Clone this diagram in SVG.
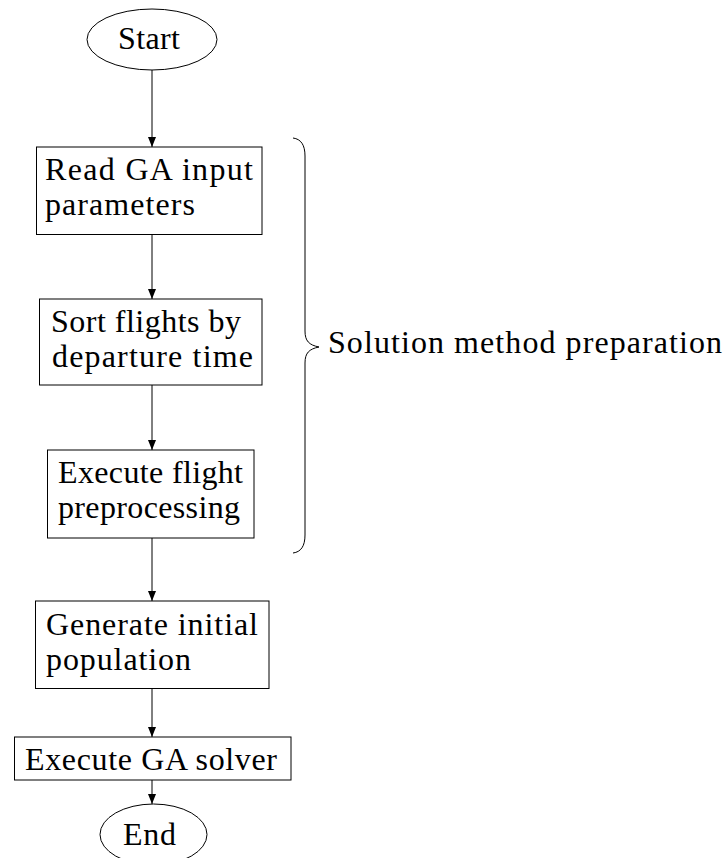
<svg xmlns="http://www.w3.org/2000/svg" width="725" height="858" viewBox="0 0 725 858">
  <style>
    .box { fill: #ffffff; stroke: #000000; stroke-width: 1; }
    .term { fill: #ffffff; stroke: #000000; stroke-width: 1; }
    .lbl { font-family: "Liberation Serif", "Times New Roman", serif; font-size: 32px; fill: #000000; }
    .edge { fill: none; stroke: #000000; stroke-width: 1; }
    .brace { fill: none; stroke: #000000; stroke-width: 1; }
  </style>
  <defs>
    <marker id="arrow" viewBox="0 0 10 8" refX="10" refY="4" markerWidth="10" markerHeight="8" markerUnits="userSpaceOnUse" orient="auto">
      <path d="M0,0 L10,4 L0,8 Z" fill="#000000"/>
    </marker>
  </defs>

  <rect width="725" height="858" fill="#ffffff"/>

  <!-- connectors -->
  <g id="connectors">
    <line class="edge" x1="152" y1="70" x2="152" y2="147" marker-end="url(#arrow)"/>
    <line class="edge" x1="152" y1="234" x2="152" y2="299" marker-end="url(#arrow)"/>
    <line class="edge" x1="152" y1="385" x2="152" y2="450" marker-end="url(#arrow)"/>
    <line class="edge" x1="152" y1="538" x2="152" y2="601" marker-end="url(#arrow)"/>
    <line class="edge" x1="152" y1="688" x2="152" y2="737" marker-end="url(#arrow)"/>
    <line class="edge" x1="152" y1="780" x2="152" y2="804" marker-end="url(#arrow)"/>
  </g>

  <!-- nodes -->
  <g id="start">
    <ellipse class="term" cx="152" cy="39.5" rx="65" ry="30.5"/>
    <text class="lbl" x="118" y="49" textLength="62">Start</text>
  </g>

  <g id="read-params">
    <rect class="box" x="36.5" y="147" width="225.5" height="87.5"/>
    <text class="lbl" x="45" y="180" textLength="208">Read GA input</text>
    <text class="lbl" x="45" y="215" textLength="150">parameters</text>
  </g>

  <g id="sort-flights">
    <rect class="box" x="39.5" y="299" width="222.5" height="86"/>
    <text class="lbl" x="51" y="332" textLength="190">Sort flights by</text>
    <text class="lbl" x="52" y="367" textLength="201">departure time</text>
  </g>

  <g id="preprocess">
    <rect class="box" x="47.5" y="450" width="206.5" height="88"/>
    <text class="lbl" x="58" y="483" textLength="185">Execute flight</text>
    <text class="lbl" x="58" y="518" textLength="182">preprocessing</text>
  </g>

  <g id="init-population">
    <rect class="box" x="35.5" y="601" width="233.5" height="87.5"/>
    <text class="lbl" x="46" y="635" textLength="212">Generate initial</text>
    <text class="lbl" x="46" y="670" textLength="145">population</text>
  </g>

  <g id="ga-solver">
    <rect class="box" x="14.5" y="737" width="276.5" height="43"/>
    <text class="lbl" x="25" y="770" textLength="252">Execute GA solver</text>
  </g>

  <g id="end">
    <ellipse class="term" cx="153.5" cy="834.5" rx="53.5" ry="30.5"/>
    <text class="lbl" x="123" y="845" textLength="53">End</text>
  </g>

  <!-- brace grouping the preparation steps -->
  <g id="preparation-brace">
    <path class="brace" d="M293,138 C301,139 305,145 305,156 L305,331 C305,341 309,345 319,347 C309,349 305,353 305,363 L305,535 C305,546 301,552 293,553"/>
    <text class="lbl" x="328" y="353" textLength="394">Solution method preparation</text>
  </g>
</svg>
